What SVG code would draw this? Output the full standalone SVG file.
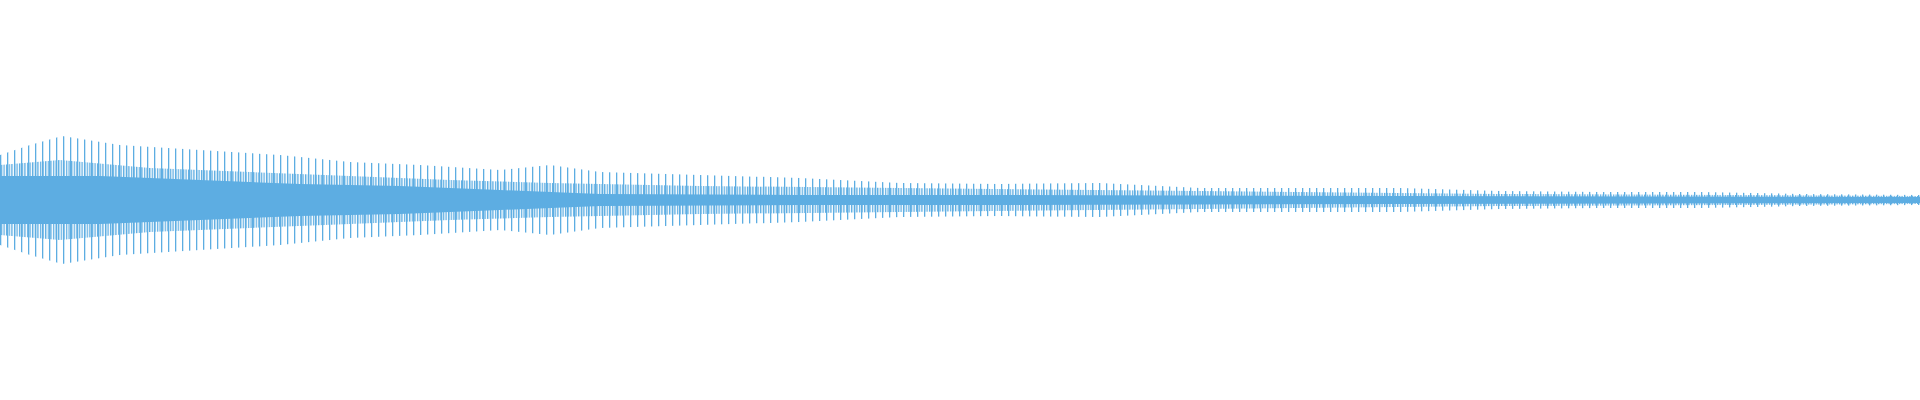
<svg xmlns="http://www.w3.org/2000/svg" width="1920" height="400" viewBox="0 0 1920 400">
<defs>
<pattern id="s1" width="7" height="400" patternUnits="userSpaceOnUse"><rect x="0" y="0" width="1.3" height="400" fill="#5DADE2"/></pattern>
<pattern id="s2" width="2.6" height="400" patternUnits="userSpaceOnUse"><rect x="0.9" y="0" width="1.3" height="400" fill="#5DADE2"/></pattern>
</defs>
<rect width="1920" height="400" fill="#fff"/>
<g id="wave">
<polygon fill="url(#s1)" points="0,155 30,145 62,136 120,145 200,150 280,155 350,162 420,165 500,170 550,165 600,172 700,175 800,178 900,183 1000,184 1100,183 1200,188 1300,188 1400,188 1500,191 1600,192 1700,192 1800,194 1920,195 1920,205 1800,206 1700,208 1600,208 1500,209 1400,212 1300,212 1200,212 1100,217 1000,216 900,217 800,222 700,225 600,228 550,235 500,230 420,235 350,238 280,245 200,250 120,255 62,264 30,255 0,245"/>
<polygon fill="url(#s2)" points="0,165 60,160 150,168 250,172 350,176 450,180 550,183 700,186 900,188 1200,191 1500,194 1920,196 1920,204 1500,206 1200,209 900,212 700,214 550,217 450,220 350,224 250,228 150,232 60,240 0,235"/>
<polygon fill="#5DADE2" points="0,176 100,176 200,180 300,184 400,186 500,190 600,194 800,195 1000,195 1400,196 1920,197 1920,203 1400,204 1000,205 800,205 600,206 500,210 400,214 300,216 200,220 100,224 0,224"/>
</g>
</svg>
